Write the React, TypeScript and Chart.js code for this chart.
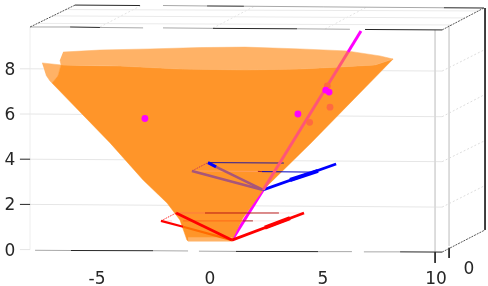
import React, { useEffect, useRef } from "react";
import { Chart, registerables } from "chart.js";

Chart.register(...registerables);

type Pt = number[];

const xTickValues = [-5, 0, 5, 10];
const yTickValues = [0, 2, 4, 6, 8];
const depthTickLabel = { text: "0", x: 11.46, y: -0.88 };

// Cone surface
const coneBody: Pt[] = [[-6.59, 8.17], [-6.73, 7.68], [-6.99, 7.37], [-4.42, 4.72], [-2.96, 3.08], [-1.9, 2.06], [-1.33, 1.31], [-1.02, 0.42], [-0.97, 0.38], [0.97, 0.38], [1.02, 0.51], [1.15, 0.78], [1.46, 1.4], [2.35, 2.64], [4.47, 4.72], [8.1, 8.43], [7.3, 8.17], [5.75, 8.08], [3.98, 7.99], [1.55, 7.95], [-1.33, 7.99], [-3.98, 8.12]];
const coneRim: Pt[] = [[-6.5, 8.74], [-4.87, 8.83], [-2.65, 8.88], [-0.44, 8.94], [1.55, 8.96], [3.98, 8.88], [6.06, 8.79], [7.52, 8.57], [8.1, 8.43], [7.3, 8.17], [5.75, 8.08], [3.98, 7.99], [1.55, 7.95], [-1.33, 7.99], [-3.98, 8.12], [-6.59, 8.17], [-6.64, 8.39]];
const coneFlap: Pt[] = [[-7.43, 8.26], [-6.59, 8.17], [-6.73, 7.68], [-6.99, 7.37], [-7.08, 7.46], [-7.26, 7.73]];
const coneBase: Pt[] = [[-0.97, 0.54], [0.97, 0.54], [0.97, 0.38], [-0.97, 0.38]];

// Points
const magentaX = [-2.88, 3.89, 5.12, 5.27];
const magentaY = [5.8, 6.0, 7.06, 6.97];
const salmonX = [5.19, 5.31, 4.41];
const salmonY = [7.24, 6.3, 5.63];

// Lines over the cone
const axisLow: Pt[] = [[0.97, 0.42], [2.35, 2.64]];
const axisMid: Pt[] = [[2.35, 2.64], [6.11, 8.74]];
const axisTop: Pt[] = [[6.11, 8.74], [6.68, 9.67]];
const blueArm: Pt[] = [[2.35, 2.64], [5.58, 3.79]];
const blueThick: Pt[] = [[3.54, 3.08], [4.78, 3.48]];
const purpleArmA: Pt[] = [[2.35, 2.64], [-0.8, 3.48]];
const purpleArmB: Pt[] = [[2.35, 2.64], [0.27, 3.66]];
const blueStub: Pt[] = [[0.27, 3.66], [-0.09, 3.85]];
const upperDots: Pt[] = [[-0.8, 3.48], [-0.09, 3.85]];
const upperThinA: Pt[] = [[-0.09, 3.85], [3.27, 3.83]];
const upperFaintB: Pt[] = [[-0.8, 3.48], [2.12, 3.46]];
const upperMaroonB: Pt[] = [[2.12, 3.46], [2.3, 3.45]];
const upperNavyB: Pt[] = [[2.3, 3.45], [4.42, 3.43]];
const redArmRight: Pt[] = [[0.97, 0.42], [4.16, 1.62]];
const redThick: Pt[] = [[2.43, 0.97], [3.54, 1.39]];
const redArmLeft: Pt[] = [[0.97, 0.42], [-1.5, 1.62]];
const orangeArm: Pt[] = [[0.97, 0.42], [-1.19, 1.01]];
const redArmFar: Pt[] = [[-1.19, 1.01], [-2.17, 1.27]];
const lowerDots: Pt[] = [[-2.17, 1.27], [-1.5, 1.62]];
const lowerFaintA: Pt[] = [[-1.5, 1.62], [-0.22, 1.62]];
const lowerDarkA: Pt[] = [[-0.22, 1.62], [3.05, 1.62]];
const lowerPaleA: Pt[] = [[3.05, 1.62], [4.16, 1.62]];
const lowerPaleB1: Pt[] = [[-2.17, 1.27], [-1.68, 1.27]];
const lowerOrangeB: Pt[] = [[-1.19, 1.27], [1.46, 1.27]];
const lowerMaroonB: Pt[] = [[1.46, 1.27], [1.9, 1.27]];
const lowerPaleB2: Pt[] = [[1.9, 1.27], [3.54, 1.27]];

// Box and grid
const gridFront: Pt[][] = [
  [[-7.96, 8], [10.27, 7.9]],
  [[-7.96, 6], [10.27, 5.88]],
  [[-7.96, 4], [10.27, 3.89]],
  [[-7.96, 2], [10.27, 1.88]],
];
const gridSide: Pt[][] = [
  [[10.27, 7.9], [12.12, 8.83]],
  [[10.27, 5.88], [12.12, 6.84]],
  [[10.27, 3.89], [12.12, 4.8]],
  [[10.27, 1.88], [12.12, 2.81]],
];
const gridCeilingDepth: Pt[][] = [
  [[-4.87, 9.85], [-3.01, 10.82]],
  [[0.13, 9.8], [1.99, 10.78]],
  [[5.09, 9.76], [6.95, 10.74]],
];
const gridCeilingWide: Pt[][] = [
  [[-6.37, 10.62], [11.9, 10.56]],
  [[-6.99, 10.34], [11.28, 10.25]],
  [[-7.63, 10.01], [10.71, 9.94]],
];
const gridVertical: Pt[][] = [
  [[9.96, 9.72], [9.96, -0.11]],
  [[10.58, 9.94], [10.58, 0.16]],
];
const wallLeft: Pt[] = [[-7.96, 9.85], [-7.96, 0]];
const darkEdges: Pt[][] = [
  [[12.17, 10.69], [12.17, 0.87]],
  [[9.96, -0.11], [9.96, -0.59]],
  [[10.58, 0.08], [10.58, -0.37]],
  [[-8.41, 4], [-7.96, 4]],
  [[-8.41, 2], [-7.96, 2]],
  [[-6.15, -0.04], [-2.52, -0.05]],
  [[1.15, -0.08], [4.78, -0.09]],
  [[8.41, -0.1], [10.27, -0.11]],
  [[-6.19, 9.85], [-4.87, 9.83]],
  [[0.13, 9.79], [3.85, 9.77]],
  [[6.86, 9.74], [10.27, 9.72]],
  [[-5.97, 10.82], [-3.1, 10.8]],
  [[-0.13, 10.78], [1.5, 10.77]],
  [[10.35, 10.7], [12.12, 10.69]],
];
const greyEdges: Pt[][] = [
  [[-7.74, -0.03], [-6.15, -0.04]],
  [[-2.52, -0.05], [-0.97, -0.06]],
  [[-0.49, -0.07], [1.15, -0.08]],
  [[4.78, -0.09], [6.28, -0.09]],
  [[6.81, -0.1], [8.41, -0.1]],
  [[-7.96, 9.85], [-6.19, 9.85]],
  [[-4.87, 9.83], [-2.96, 9.81]],
  [[-2.08, 9.81], [0.13, 9.79]],
  [[3.85, 9.77], [6.19, 9.75]],
  [[-2.08, 10.8], [-0.13, 10.78]],
  [[1.5, 10.77], [5.04, 10.74]],
  [[5.04, 10.74], [10.35, 10.7]],
];
const dashedEdges: Pt[][] = [
  [[-7.96, 9.85], [-5.97, 10.82]],
  [[10.27, 9.72], [12.12, 10.69]],
  [[10.27, -0.11], [12.17, 0.87]],
];
const faintTicks: Pt[][] = [
  [[-8.41, 8], [-7.96, 8]],
  [[-8.41, 6], [-7.96, 6]],
  [[-8.41, 0], [-7.96, 0]],
];

const toXY = (pts: Pt[]) => pts.map(([x, y]) => ({ x, y }));

const line = (pts: Pt[], color: string, width = 1, dash: number[] = []) => ({
  data: toXY(pts),
  showLine: true,
  borderColor: color,
  borderWidth: width,
  borderDash: dash,
  pointRadius: 0,
  clip: false,
});

const shape = (pts: Pt[], color: string) => ({
  data: toXY(pts),
  showLine: true,
  fill: "shape",
  backgroundColor: color,
  borderColor: color,
  borderWidth: 0.5,
  pointRadius: 0,
  clip: false,
});

const dots = (xs: number[], ys: number[], color: string) => ({
  data: xs.map((x, i) => ({ x, y: ys[i] })),
  showLine: false,
  pointRadius: 3.4,
  pointBorderWidth: 0,
  pointBackgroundColor: color,
  clip: false,
});

const ORANGE = "#FF9529";
const LIGHT = "#FFB266";
const RED = "#FF0000";
const BLUE = "#0000FF";
const MAGENTA = "#FF00FF";
const SALMON = "#FF5577";
const PURPLE = "#A8567A";

const layers: any[] = [
  line(wallLeft, "#F5F5F5"),
  ...gridFront.map((p) => line(p, "#E6E6E6")),
  ...gridSide.map((p) => line(p, "#DDDDDD", 1, [2, 2])),
  ...gridCeilingDepth.map((p) => line(p, "#E4E4E4", 1, [2, 2])),
  ...gridCeilingWide.map((p) => line(p, "#EAEAEA")),
  ...gridVertical.map((p) => line(p, "#D8D8D8")),
  ...faintTicks.map((p) => line(p, "#E4E4E4")),
  ...greyEdges.map((p) => line(p, "#A8A8A8")),
  ...darkEdges.map((p) => line(p, "#262626")),
  ...dashedEdges.map((p) => line(p, "#555555", 1, [2, 1])),
  line(lowerPaleA, "#FFE4E4"),
  line(lowerPaleB1, "#FFD8D8"),
  line(lowerPaleB2, "#FFE4E4"),
  line(axisLow, MAGENTA, 3),
  shape(coneFlap, LIGHT),
  shape(coneBody, ORANGE),
  shape(coneBase, LIGHT),
  shape(coneRim, LIGHT),
  line(lowerFaintA, "#FF7A40"),
  line(lowerDarkA, "#B81818"),
  line(lowerOrangeB, "#FF6A18"),
  line(lowerMaroonB, "#A82020"),
  line(upperFaintB, "#FFA060"),
  line(upperMaroonB, "#A02030"),
  line(upperNavyB, "#0000C0"),
  line(upperThinA, "#2A1A9A"),
  line(upperDots, "#C03060", 1, [1, 1]),
  line(lowerDots, RED, 1, [1, 1]),
  line(purpleArmA, PURPLE, 2.5),
  line(purpleArmB, PURPLE, 2.5),
  line(blueStub, BLUE, 3),
  line(blueArm, BLUE, 2.8),
  line(blueThick, BLUE, 4),
  line(redArmRight, RED, 2.8),
  line(redThick, RED, 4),
  line(redArmFar, RED, 2.2),
  line(orangeArm, "#FF6A00", 2.2),
  line(redArmLeft, RED, 2.8),
  line(axisMid, SALMON, 3),
  line(axisTop, MAGENTA, 3),
  dots(salmonX, salmonY, "#FF6A40"),
  dots(magentaX, magentaY, MAGENTA),
];

const depthLabelPlugin = {
  id: "depthLabel",
  afterDraw(chart: any) {
    const { ctx, scales } = chart;
    ctx.save();
    ctx.font = "17px 'DejaVu Sans'";
    ctx.fillStyle = "#262626";
    ctx.textAlign = "center";
    ctx.textBaseline = "middle";
    ctx.fillText(depthTickLabel.text, scales.x.getPixelForValue(depthTickLabel.x), scales.y.getPixelForValue(depthTickLabel.y));
    ctx.restore();
  },
};

export default function App() {
  const ref = useRef<HTMLCanvasElement>(null);
  useEffect(() => {
    document.body.style.margin = "0";
    const chart = new Chart(ref.current as HTMLCanvasElement, {
      type: "scatter",
      data: { datasets: layers.map((d, i) => ({ ...d, order: layers.length - i })) },
      options: {
        animation: false,
        responsive: false,
        layout: { padding: { top: 23.6, right: 52, left: 0, bottom: 0 } },
        plugins: { legend: { display: false }, tooltip: { enabled: false } },
        scales: {
          x: {
            type: "linear",
            min: -8,
            max: 10,
            grid: { display: false },
            border: { display: false },
            afterBuildTicks: (s: any) => { s.ticks = xTickValues.map((value) => ({ value })); },
            afterFit: (s: any) => { s.height = 36.4; },
            ticks: {
              autoSkip: false,
              maxRotation: 0,
              padding: 12,
              color: "#262626",
              font: { family: "'DejaVu Sans'", size: 17 },
              callback: (v: any) => String(v),
            },
          },
          y: {
            type: "linear",
            min: 0,
            max: 10,
            grid: { display: false },
            border: { display: false },
            afterBuildTicks: (s: any) => { s.ticks = yTickValues.map((value) => ({ value })); },
            afterFit: (s: any) => { s.width = 29.2; },
            ticks: {
              autoSkip: false,
              padding: 6,
              labelOffset: 1.5,
              color: "#262626",
              font: { family: "'DejaVu Sans'", size: 17 },
              callback: (v: any) => String(v),
            },
          },
        },
      },
      plugins: [depthLabelPlugin],
    } as any);
    return () => chart.destroy();
  }, []);
  return <canvas ref={ref} width={488} height={286} style={{ display: "block", position: "absolute", left: 0, top: 0 }} />;
}
